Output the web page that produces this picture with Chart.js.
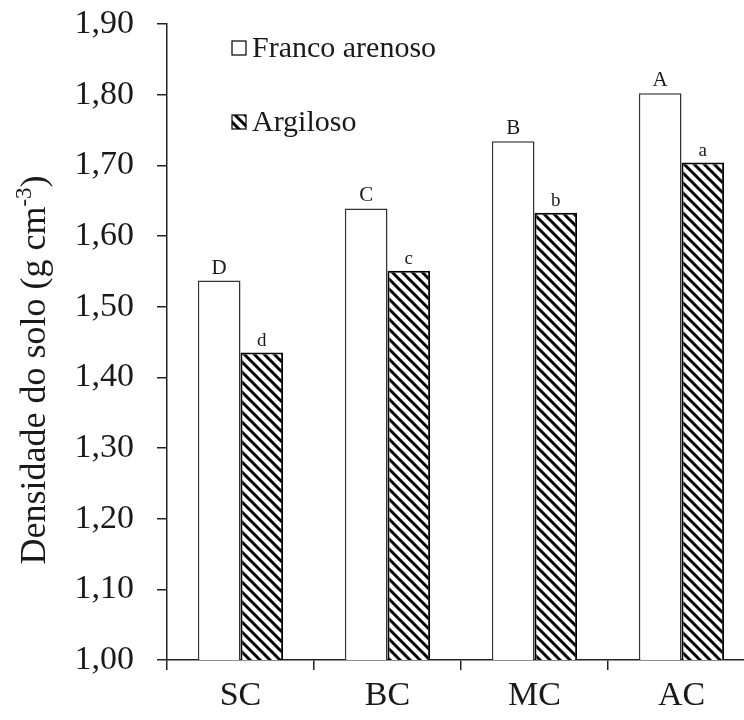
<!DOCTYPE html>
<html>
<head>
<meta charset="utf-8">
<script src="https://cdn.jsdelivr.net/npm/chart.js@4.4.1/dist/chart.umd.min.js"></script>
<style>
  html, body { margin: 0; padding: 0; background: #fff; overflow: hidden; }
  #wrap { width: 760px; height: 720px; }
</style>
</head>
<body>
<div id="wrap"><canvas id="chart" width="760" height="720"></canvas></div>
<script>
// Soil bulk density by compaction level, for two soil textures
const categories = ['SC', 'BC', 'MC', 'AC'];
const francoArenoso = [1.537, 1.639, 1.734, 1.802];
const argiloso = [1.435, 1.551, 1.633, 1.704];
const francoLetters = ['D', 'C', 'B', 'A'];
const argilosoLetters = ['d', 'c', 'b', 'a'];
const seriesNames = ['Franco arenoso', 'Argiloso'];
const yMin = 1.0, yMax = 1.9, yStep = 0.1;
const yTitle = 'Densidade do solo (g cm';
const yTitleSup = '-3';

const SERIF = '"Liberation Serif", "Times New Roman", serif';
const INK = '#1a1a1a';

// diagonal "\" hatch fill
function makeHatch() {
  const s = 10;
  const c = document.createElement('canvas');
  c.width = s; c.height = s;
  const g = c.getContext('2d');
  g.fillStyle = '#fff';
  g.fillRect(0, 0, s, s);
  g.strokeStyle = '#000';
  g.lineWidth = 3;
  g.beginPath();
  g.moveTo(-2, -2); g.lineTo(s + 2, s + 2);
  g.moveTo(s - 2, -2); g.lineTo(s + 2, 2);
  g.moveTo(-2, s - 2); g.lineTo(2, s + 2);
  g.stroke();
  return g.createPattern(c, 'repeat');
}
const hatch = makeHatch();

const letters = [francoLetters, argilosoLetters];

const decorations = {
  id: 'decorations',
  afterDatasetsDraw(chart) {
    const ctx = chart.ctx;
    // significance letters above each bar
    chart.data.datasets.forEach((ds, i) => {
      const meta = chart.getDatasetMeta(i);
      meta.data.forEach((bar, j) => {
        ctx.save();
        ctx.fillStyle = INK;
        ctx.font = (i === 0 ? '21px ' : '19px ') + SERIF;
        ctx.textAlign = 'center';
        ctx.textBaseline = 'alphabetic';
        ctx.fillText(letters[i][j], bar.x, bar.y - 7);
        ctx.restore();
      });
    });

    // legend inside the plot
    const rows = [48, 122];
    chart.data.datasets.forEach((ds, i) => {
      const bx = 232, by = rows[i] - 7, bs = 14;
      ctx.save();
      ctx.fillStyle = ds.backgroundColor;
      ctx.fillRect(bx, by, bs, bs);
      ctx.strokeStyle = '#000';
      ctx.lineWidth = 1.2;
      ctx.strokeRect(bx, by, bs, bs);
      ctx.fillStyle = INK;
      ctx.font = '30px ' + SERIF;
      ctx.textAlign = 'left';
      ctx.textBaseline = 'middle';
      ctx.fillText(ds.label, bx + bs + 6, rows[i] + 1);
      ctx.restore();
    });

    // rotated y-axis title with superscript exponent
    ctx.save();
    const mainFont = '36px ' + SERIF;
    const supFont = '23px ' + SERIF;
    ctx.font = mainFont;
    const w1 = ctx.measureText(yTitle).width;
    const w3 = ctx.measureText(')').width;
    ctx.font = supFont;
    const w2 = ctx.measureText(yTitleSup).width;
    const total = w1 + w2 + w3;
    ctx.translate(45, 370);
    ctx.rotate(-Math.PI / 2);
    ctx.fillStyle = INK;
    ctx.textAlign = 'left';
    ctx.textBaseline = 'alphabetic';
    let x = -total / 2;
    ctx.font = mainFont;
    ctx.fillText(yTitle, x, 0);
    x += w1;
    ctx.font = supFont;
    ctx.fillText(yTitleSup, x, -14);
    x += w2;
    ctx.font = mainFont;
    ctx.fillText(')', x, 0);
    ctx.restore();
  }
};

new Chart(document.getElementById('chart'), {
  type: 'bar',
  data: {
    labels: categories,
    datasets: [
      {
        label: seriesNames[0],
        data: francoArenoso,
        backgroundColor: '#ffffff',
        borderColor: '#333333',
        borderWidth: 1.5,
        borderSkipped: 'bottom',
        categoryPercentage: 0.58,
        barPercentage: 1.0
      },
      {
        label: seriesNames[1],
        data: argiloso,
        backgroundColor: hatch,
        borderColor: '#000000',
        borderWidth: 2,
        borderSkipped: 'bottom',
        categoryPercentage: 0.58,
        barPercentage: 1.0
      }
    ]
  },
  options: {
    responsive: false,
    animation: false,
    devicePixelRatio: 1,
    layout: { padding: { left: 0, right: 5, top: 24, bottom: 0 } },
    plugins: {
      legend: { display: false },
      tooltip: { enabled: false }
    },
    scales: {
      x: {
        grid: {
          offset: true,
          drawOnChartArea: false,
          drawTicks: true,
          tickLength: 10,
          color: '#222',
          lineWidth: 1.5
        },
        border: { display: true, color: '#222', width: 1.5 },
        ticks: {
          color: INK,
          font: { family: SERIF, size: 34 },
          padding: 6
        },
        afterFit(scale) {
          scale.height = 60;
          scale.paddingLeft = 0;
          scale.paddingRight = 0;
        }
      },
      y: {
        min: yMin,
        max: yMax,
        grid: {
          drawOnChartArea: false,
          drawTicks: true,
          tickLength: 10,
          color: '#222',
          lineWidth: 1.5
        },
        border: { display: true, color: '#222', width: 1.5 },
        ticks: {
          stepSize: yStep,
          color: INK,
          padding: 23,
          font: { family: SERIF, size: 34 },
          callback: (v) => Number(v).toFixed(2).replace('.', ',')
        },
        afterFit(scale) {
          scale.width = 167;
          scale.paddingTop = 0;
          scale.paddingBottom = 0;
        }
      }
    }
  },
  plugins: [decorations]
});
</script>
</body>
</html>
